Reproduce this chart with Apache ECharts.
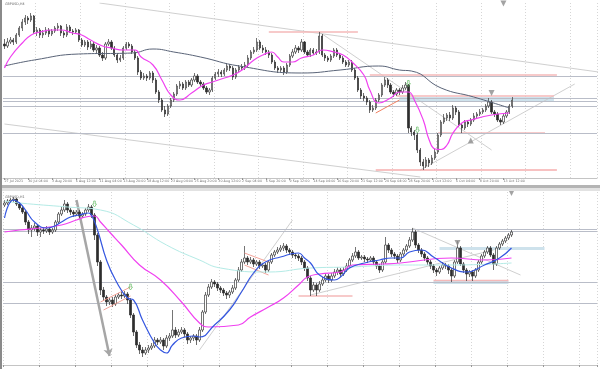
<!DOCTYPE html>
<html><head><meta charset="utf-8">
<script src="https://cdn.jsdelivr.net/npm/echarts/dist/echarts.min.js"></script>
<style>html,body{margin:0;padding:0;background:#fff}#c{width:600px;height:369px}</style>
</head><body><div id="c"></div>
<script>
// Prices are stored in pips above 1.0000 (3864 = 1.3864). Candles: [open, close, low, high]
const topTitle = 'GBPUSD,H4';
const bottomTitle = 'GBPUSD,H1';
const topTicks = ['27 Jul 2021','30 Jul 04:00','3 Aug 20:00','6 Aug 12:00','11 Aug 04:00','13 Aug 20:00','18 Aug 12:00','23 Aug 04:00','25 Aug 20:00','30 Aug 12:00','2 Sep 04:00','6 Sep 20:00','9 Sep 12:00','14 Sep 04:00','16 Sep 20:00','21 Sep 12:00','24 Sep 04:00','28 Sep 20:00','1 Oct 12:00','6 Oct 04:00','8 Oct 20:00','13 Oct 12:00'];
const topBarCount = 200;
const bottomBarCount = 198;

const topOHLC = [
[3864,3856,3844,3884],[3856,3872,3848,3888],[3872,3880,3864,3892],[3880,3872,3860,3888],[3872,3900,3864,3908],
[3900,3928,3892,3936],[3928,3952,3916,3964],[3952,3968,3940,3980],[3968,3960,3944,3976],[3960,3976,3952,3988],
[3976,3912,3904,3980],[3912,3920,3896,3932],[3920,3900,3888,3928],[3900,3908,3888,3920],[3908,3920,3900,3932],
[3920,3904,3892,3928],[3904,3916,3896,3924],[3916,3928,3908,3936],[3928,3936,3916,3948],[3936,3908,3896,3940],
[3908,3900,3888,3916],[3900,3932,3892,3944],[3932,3916,3908,3940],[3916,3912,3900,3924],[3912,3920,3904,3928],
[3920,3880,3872,3924],[3880,3860,3852,3888],[3860,3872,3852,3880],[3872,3852,3840,3880],[3852,3864,3844,3876],
[3864,3840,3832,3872],[3840,3848,3828,3860],[3848,3820,3812,3856],[3820,3808,3796,3832],[3808,3864,3800,3872],
[3864,3872,3856,3884],[3872,3848,3840,3880],[3848,3820,3812,3856],[3820,3800,3788,3828],[3800,3808,3792,3820],
[3808,3848,3800,3856],[3848,3864,3840,3872],[3864,3856,3848,3872],[3856,3832,3824,3864],[3832,3808,3800,3840],
[3808,3752,3740,3816],[3752,3728,3720,3760],[3728,3736,3720,3748],[3736,3728,3716,3744],[3728,3748,3720,3756],
[3748,3720,3708,3756],[3720,3672,3664,3728],[3672,3640,3628,3680],[3640,3600,3592,3648],[3600,3584,3572,3616],
[3584,3616,3576,3624],[3616,3640,3608,3648],[3640,3664,3632,3672],[3664,3696,3656,3704],[3696,3704,3684,3716],
[3704,3688,3680,3712],[3688,3712,3680,3720],[3712,3700,3692,3720],[3700,3720,3692,3728],[3720,3736,3712,3748],
[3736,3712,3704,3744],[3712,3704,3696,3720],[3704,3688,3680,3712],[3688,3672,3664,3696],[3672,3680,3660,3688],
[3680,3728,3672,3736],[3728,3744,3720,3752],[3744,3752,3732,3764],[3752,3744,3732,3760],[3744,3760,3736,3768],
[3760,3776,3752,3788],[3776,3768,3756,3784],[3768,3732,3720,3776],[3732,3760,3724,3768],[3760,3772,3752,3780],
[3772,3768,3760,3784],[3768,3780,3760,3792],[3780,3808,3772,3820],[3808,3832,3800,3840],[3832,3840,3824,3852],
[3840,3872,3832,3888],[3872,3848,3840,3880],[3848,3840,3828,3860],[3840,3832,3820,3852],[3832,3820,3808,3840],
[3820,3792,3784,3828],[3792,3768,3760,3800],[3768,3760,3748,3776],[3760,3768,3752,3776],[3768,3752,3740,3776],
[3752,3780,3744,3788],[3780,3816,3772,3824],[3816,3832,3808,3844],[3832,3848,3824,3860],[3848,3840,3828,3856],
[3840,3872,3832,3884],[3872,3832,3824,3876],[3832,3820,3812,3840],[3820,3840,3812,3848],[3840,3828,3820,3848],
[3828,3832,3820,3844],[3832,3896,3824,3912],[3896,3820,3812,3904],[3820,3808,3796,3828],[3808,3800,3792,3816],
[3800,3816,3792,3824],[3816,3840,3808,3848],[3840,3820,3812,3848],[3820,3808,3800,3828],[3808,3792,3784,3816],
[3792,3780,3772,3800],[3780,3792,3772,3800],[3792,3760,3752,3800],[3760,3728,3720,3768],[3728,3680,3672,3736],
[3680,3656,3644,3688],[3656,3648,3636,3668],[3648,3632,3620,3656],[3632,3600,3588,3640],[3600,3608,3592,3620],
[3608,3640,3600,3648],[3640,3660,3632,3668],[3660,3700,3652,3708],[3700,3720,3692,3732],[3720,3700,3688,3728],
[3700,3672,3664,3708],[3672,3664,3652,3680],[3664,3680,3656,3688],[3680,3672,3660,3688],[3672,3688,3664,3700],
[3688,3700,3680,3712],[3700,3528,3508,3704],[3528,3512,3496,3536],[3512,3500,3480,3520],[3500,3440,3428,3508],
[3440,3392,3376,3448],[3392,3376,3360,3404],[3376,3400,3368,3412],[3400,3388,3372,3408],[3388,3408,3380,3420],
[3408,3432,3400,3444],[3432,3500,3424,3508],[3500,3552,3492,3560],[3552,3568,3544,3584],[3568,3580,3556,3588],
[3580,3568,3556,3592],[3568,3608,3560,3620],[3608,3592,3580,3616],[3592,3540,3532,3600],[3540,3528,3508,3548],
[3528,3552,3520,3560],[3552,3544,3532,3560],[3544,3560,3536,3568],[3560,3576,3552,3588],[3576,3584,3568,3592],
[3584,3592,3576,3604],[3592,3600,3584,3608],[3600,3616,3592,3624],[3616,3632,3608,3648],[3632,3592,3584,3640],
[3592,3584,3572,3600],[3584,3560,3552,3592],[3560,3552,3540,3568],[3552,3576,3544,3584],[3576,3592,3568,3600],
[3592,3616,3584,3624],[3616,3640,3608,3652]
];
const topMaFast = [[0,3768],[2,3812],[6,3868],[9,3900],[12,3912],[16,3920],[19,3920],[23,3908],[26,3900],[29,3880],[33,3856],[36,3848],[40,3840],[44,3840],[46,3812],[50,3780],[53,3720],[56,3660],[59,3640],[63,3668],[67,3700],[70,3712],[73,3724],[77,3740],[80,3760],[84,3800],[87,3820],[90,3832],[92,3812],[94,3792],[97,3792],[100,3808],[104,3820],[107,3840],[111,3832],[114,3820],[117,3792],[121,3740],[123,3680],[126,3628],[130,3648],[133,3672],[136,3672],[138,3640],[141,3560],[143,3480],[145,3444],[147,3442],[149,3460],[151,3508],[154,3548],[157,3560],[164,3580],[170,3588]];
const topMaSlow = [[0,3776],[10,3800],[25,3824],[43,3828],[50,3844],[57,3832],[66,3812],[79,3776],[100,3748],[113,3760],[126,3776],[133,3760],[137,3756],[147,3688],[158,3652],[170,3608]];
const topLevels = [3736, 3648, 3636, 3616, 3508];
const topPinkLevels = [[89,119,3912],[123,186,3740],[132,185,3656],[146,182,3508]];
const topRedLevels = [[125,186,3360]];
const topBands = [[133,185,3652,3632]];
const topTrends = [[[32,4028],[199.5,3752]],[[-0.5,3544],[140,3332]],[[106,3912],[164,3440]],[[140,3360],[192,3704]]];
const topOrangeTrends = [[[125,3588],[133,3640]]];
const topDownTriangles = [[164,3668],[168,4026]];
const topUpTriangles = [[157,3478]];
const topGreenArrows = [[136,3706],[139,3520]];

const bottomOHLC = [
[3730,3734,3726,3740],[3734,3738,3730,3742],[3738,3740,3734,3744],[3740,3742,3736,3746],[3742,3732,3728,3744],
[3732,3724,3720,3736],[3724,3716,3712,3728],[3716,3696,3690,3720],[3696,3680,3672,3700],[3680,3684,3666,3690],
[3684,3688,3678,3694],[3688,3676,3668,3692],[3676,3680,3666,3684],[3680,3678,3672,3686],[3678,3682,3674,3688],
[3682,3676,3670,3686],[3676,3680,3672,3684],[3680,3696,3676,3700],[3696,3712,3692,3716],[3712,3720,3708,3726],
[3720,3732,3716,3740],[3732,3720,3714,3736],[3720,3716,3710,3724],[3716,3712,3706,3720],[3712,3716,3708,3720],
[3716,3708,3702,3720],[3708,3712,3704,3716],[3712,3720,3708,3724],[3720,3726,3716,3732],[3726,3710,3704,3730],
[3710,3670,3660,3714],[3670,3616,3608,3674],[3616,3560,3550,3620],[3560,3546,3538,3566],[3546,3536,3528,3550],
[3536,3540,3530,3544],[3540,3532,3526,3546],[3532,3546,3528,3550],[3546,3550,3542,3554],[3550,3548,3542,3556],
[3548,3552,3544,3558],[3552,3540,3532,3556],[3540,3510,3504,3544],[3510,3476,3468,3514],[3476,3450,3444,3480],
[3450,3440,3432,3456],[3440,3434,3426,3446],[3434,3440,3430,3446],[3440,3444,3434,3450],[3444,3448,3440,3454],
[3448,3460,3444,3466],[3460,3456,3450,3464],[3456,3460,3452,3466],[3460,3448,3440,3464],[3448,3464,3444,3470],
[3464,3468,3458,3474],[3468,3480,3464,3520],[3480,3470,3464,3486],[3470,3476,3466,3482],[3476,3480,3472,3486],
[3480,3472,3466,3484],[3472,3460,3452,3476],[3460,3464,3454,3468],[3464,3468,3458,3472],[3468,3460,3450,3472],
[3460,3480,3456,3486],[3480,3516,3476,3520],[3516,3550,3512,3556],[3550,3566,3546,3572],[3566,3576,3562,3582],
[3576,3572,3566,3580],[3572,3564,3558,3576],[3564,3560,3554,3568],[3560,3554,3548,3564],[3554,3550,3542,3558],
[3550,3556,3544,3560],[3556,3564,3552,3570],[3564,3580,3560,3584],[3580,3600,3576,3606],[3600,3616,3596,3622],
[3616,3624,3612,3648],[3624,3616,3610,3628],[3616,3620,3612,3626],[3620,3612,3606,3624],[3612,3616,3608,3620],
[3616,3608,3602,3620],[3608,3610,3604,3614],[3610,3600,3594,3614],[3600,3616,3596,3620],[3616,3630,3612,3634],
[3630,3636,3626,3640],[3636,3640,3632,3646],[3640,3644,3636,3650],[3644,3648,3638,3654],[3648,3640,3634,3652],
[3640,3636,3630,3644],[3636,3630,3624,3640],[3630,3628,3622,3634],[3628,3624,3618,3632],[3624,3616,3610,3628],
[3616,3604,3598,3620],[3604,3584,3578,3608],[3584,3560,3548,3588],[3560,3570,3556,3576],[3570,3560,3548,3574],
[3560,3572,3556,3578],[3572,3580,3568,3586],[3580,3588,3576,3594],[3588,3580,3574,3592],[3580,3588,3576,3594],
[3588,3596,3584,3602],[3596,3600,3590,3606],[3600,3592,3586,3604],[3592,3600,3588,3606],[3600,3608,3596,3614],
[3608,3620,3604,3624],[3620,3628,3616,3634],[3628,3636,3624,3646],[3636,3624,3620,3640],[3624,3626,3620,3630],
[3626,3622,3616,3630],[3622,3620,3614,3626],[3620,3624,3616,3628],[3624,3616,3610,3628],[3616,3608,3602,3620],
[3608,3600,3594,3612],[3600,3616,3596,3620],[3616,3650,3612,3666],[3650,3640,3634,3654],[3640,3632,3626,3644],
[3632,3628,3622,3636],[3628,3620,3614,3632],[3620,3632,3616,3636],[3632,3640,3628,3644],[3640,3648,3636,3652],
[3648,3660,3644,3666],[3660,3676,3656,3684],[3676,3650,3644,3680],[3650,3640,3634,3654],[3640,3632,3626,3644],
[3632,3624,3618,3636],[3624,3616,3610,3628],[3616,3608,3602,3620],[3608,3600,3594,3612],[3600,3596,3588,3604],
[3596,3604,3592,3608],[3604,3610,3600,3616],[3610,3608,3602,3614],[3608,3600,3592,3612],[3600,3588,3576,3604],
[3588,3616,3584,3620],[3616,3644,3612,3658],[3644,3612,3608,3648],[3612,3600,3594,3616],[3600,3592,3578,3604],
[3592,3596,3586,3600],[3596,3588,3578,3600],[3588,3600,3584,3604],[3600,3616,3596,3620],[3616,3628,3612,3632],
[3628,3636,3624,3640],[3636,3644,3632,3648],[3644,3630,3626,3648],[3630,3612,3600,3634],[3612,3644,3608,3648],
[3644,3652,3640,3656],[3652,3658,3648,3662],[3658,3664,3654,3668],[3664,3670,3660,3674],[3670,3676,3666,3680]
];
const bottomMaFast = [[0,3704],[3,3740],[5,3734],[7,3720],[10,3696],[14,3684],[16,3686],[19,3696],[22,3706],[25,3710],[28,3714],[29,3710],[31,3680],[34,3620],[37,3580],[41,3544],[43,3540],[46,3500],[50,3454],[52,3440],[54,3434],[56,3450],[59,3464],[63,3468],[65,3466],[70,3490],[75,3520],[79,3556],[83,3594],[87,3616],[92,3626],[98,3634],[100,3624],[102,3614],[105,3590],[110,3580],[112,3586],[115,3604],[120,3614],[125,3620],[129,3624],[132,3624],[135,3636],[139,3640],[143,3626],[149,3604],[154,3596],[160,3610],[165,3624],[169,3644]];
const bottomMaMid = [[0,3676],[5,3680],[12,3684],[19,3690],[24,3700],[27,3706],[30,3708],[32,3696],[35,3676],[39,3650],[45,3610],[52,3580],[59,3536],[65,3494],[68,3486],[78,3490],[82,3506],[88,3526],[93,3544],[98,3570],[101,3586],[105,3592],[112,3596],[116,3610],[126,3612],[132,3614],[149,3624],[160,3620],[169,3624]];
const bottomMaSlow = [[0,3738],[5,3734],[21,3726],[32,3720],[43,3690],[54,3650],[65,3620],[72,3604],[88,3596],[102,3604],[115,3606],[132,3610],[149,3610],[169,3614]];
const bottomLevels = [3682, 3678, 3576, 3534];
const bottomPinkLevels = [[98,116,3548],[143,168,3579]];
const bottomBands = [[145,180,3646,3640],[143,168,3578,3572]];
const bottomTrends = [[[65,3440],[96,3700]],[[102,3550],[163,3640]],[[136,3684],[172,3590]]];
const bottomPinkTrends = [[[32,3536],[42,3566]],[[33,3520],[42,3548]],[[80,3634],[88,3616]],[[80,3610],[88,3590]]];
const bottomArrow = [[23.5,3740],[34.5,3428]];
const bottomDownTriangles = [[150.8,3654],[168.5,3754]];
const bottomGreenArrows = [[29.5,3732],[41.8,3566]];

const chart = echarts.init(document.getElementById('c'));
const FONT = 'DejaVu Sans';
const greenArrowPath = 'path://M3,0L7,0L7,5L10,5L5,10L0,5L3,5Z';

function lineSeries(data, xi, color, width, z, smooth) {
  return {type:'line', xAxisIndex:xi, yAxisIndex:xi, data:data, symbol:'none', smooth:smooth||false,
    lineStyle:{color:color, width:width}, silent:true, z:z, animation:false};
}
function levelSeg(arr, xi, color, width, z) {
  return arr.map(([a,b,v]) => lineSeries([[a,v],[b,v]], xi, color, width, z));
}
function trendSeg(arr, xi, color, width, z) {
  return arr.map(seg => lineSeries(seg, xi, color, width, z));
}
function bandArea(arr) {
  return arr.map(([a,b,p1,p2]) => [{coord:[a,p1]},{coord:[b,p2]}]);
}
const candleStyle = {color:'#ffffff', color0:'#2e2e2e', borderColor:'#3a3a3a', borderColor0:'#2e2e2e', borderWidth:0.7};

const series = [
  // top panel
  {type:'candlestick', xAxisIndex:0, yAxisIndex:0, data:topOHLC, barWidth:1.7, itemStyle:candleStyle, z:5, silent:true,
    markLine:{symbol:'none', silent:true, label:{show:false}, animation:false,
      lineStyle:{color:'#b9bdc8', width:1, type:'solid'}, data:topLevels.map(v=>({yAxis:v}))},
    markArea:{silent:true, itemStyle:{color:'#c9dfea', opacity:0.9}, data:bandArea(topBands)}},
  ...levelSeg(topPinkLevels, 0, '#f4b9b9', 1.6, 3),
  ...levelSeg(topRedLevels, 0, '#f08484', 1, 3),
  ...trendSeg(topTrends, 0, '#c9c9c9', 0.9, 2),
  ...trendSeg(topOrangeTrends, 0, '#f08060', 1, 6),
  lineSeries(topMaSlow, 0, '#5a6478', 1, 6, true),
  lineSeries(topMaFast, 0, '#f040f0', 1.2, 7, true),
  {type:'scatter', xAxisIndex:0, yAxisIndex:0, data:topDownTriangles, symbol:'triangle', symbolRotate:180, symbolSize:6, itemStyle:{color:'#8c8c8c'}, z:8, silent:true},
  {type:'scatter', xAxisIndex:0, yAxisIndex:0, data:topUpTriangles, symbol:'triangle', symbolSize:6, itemStyle:{color:'#8c8c8c'}, z:8, silent:true},
  {type:'scatter', xAxisIndex:0, yAxisIndex:0, data:topGreenArrows, symbol:greenArrowPath, symbolSize:[4,6], itemStyle:{color:'rgba(0,0,0,0)', borderColor:'#5cb85c', borderWidth:0.8}, z:8, silent:true},
  // bottom panel
  {type:'candlestick', xAxisIndex:1, yAxisIndex:1, data:bottomOHLC, barWidth:1.7, itemStyle:candleStyle, z:5, silent:true,
    markLine:{symbol:'none', silent:true, label:{show:false}, animation:false,
      lineStyle:{color:'#b9bdc8', width:1, type:'solid'}, data:bottomLevels.map(v=>({yAxis:v}))},
    markArea:{silent:true, itemStyle:{color:'#c9dfea', opacity:0.9}, data:bandArea(bottomBands)}},
  ...levelSeg(bottomPinkLevels, 1, '#f4b9b9', 1.4, 3),
  ...trendSeg(bottomTrends, 1, '#c9c9c9', 0.9, 2),
  ...trendSeg(bottomPinkTrends, 1, '#f29a8e', 0.9, 6),
  {type:'line', xAxisIndex:1, yAxisIndex:1, data:[], silent:true, z:4,
    markLine:{silent:true, animation:false, symbol:['none','arrow'], symbolSize:7, label:{show:false},
      lineStyle:{color:'#a6a6a6', width:2.5, type:'solid'},
      data:[[{coord:bottomArrow[0]},{coord:bottomArrow[1]}]]}},
  lineSeries(bottomMaSlow, 1, '#b4ebe6', 1, 6, true),
  lineSeries(bottomMaMid, 1, '#f040f0', 1.2, 7, true),
  lineSeries(bottomMaFast, 1, '#3456e0', 1.2, 7, true),
  {type:'scatter', xAxisIndex:1, yAxisIndex:1, data:bottomDownTriangles, symbol:'triangle', symbolRotate:180, symbolSize:6, itemStyle:{color:'#8c8c8c'}, z:8, silent:true},
  {type:'scatter', xAxisIndex:1, yAxisIndex:1, data:bottomGreenArrows, symbol:greenArrowPath, symbolSize:[4,6], itemStyle:{color:'rgba(0,0,0,0)', borderColor:'#5cb85c', borderWidth:0.8}, z:8, silent:true}
];

const topCats = Array.from({length:topBarCount}, (_, i) => String(i));
const bottomCats = Array.from({length:bottomBarCount}, (_, i) => String(i));

chart.setOption({
  animation:false,
  backgroundColor:'#ffffff',
  grid:[
    {left:3, right:3, top:3, height:175, show:false},
    {left:3, right:3, top:192, height:173, show:false}
  ],
  xAxis:[
    {type:'category', gridIndex:0, data:topCats, boundaryGap:true,
      axisLine:{show:true, lineStyle:{color:'#c4c4c4', width:1}},
      axisTick:{show:true, length:2, alignWithLabel:true, interval:(i)=>i%8===0 && i/8<topTicks.length, lineStyle:{color:'#999'}},
      axisLabel:{show:true, fontSize:3.3, color:'#707070', fontFamily:FONT, align:'left', margin:2,
        interval:(i)=>i%8===0 && i/8<topTicks.length, formatter:(v,i)=> topTicks[i/8] || ''},
      splitLine:{show:true, interval:(i)=>i%15===11, lineStyle:{color:'#d6d6d6', width:1, type:[1,2]}}},
    {type:'category', gridIndex:1, data:bottomCats, boundaryGap:true,
      axisLine:{show:true, lineStyle:{color:'#c4c4c4', width:1}},
      axisTick:{show:true, length:2, interval:(i)=>i%12===0, lineStyle:{color:'#999'}},
      axisLabel:{show:false},
      splitLine:{show:true, interval:(i)=>i%12===0, lineStyle:{color:'#d6d6d6', width:1, type:[1,2]}}}
  ],
  yAxis:[
    {type:'value', gridIndex:0, min:3328, max:4028, show:false, splitLine:{show:false}},
    {type:'value', gridIndex:1, min:3410, max:3756, show:false, splitLine:{show:false}}
  ],
  graphic:[
    {type:'rect', shape:{x:0, y:185, width:600, height:3}, style:{fill:'#b4b4b4'}, silent:true, z:100},
    {type:'rect', shape:{x:0, y:188, width:600, height:3}, style:{fill:'#e2e2e2'}, silent:true, z:100},
    {type:'rect', shape:{x:0, y:0, width:2, height:369}, style:{fill:'#8a8a8a'}, silent:true, z:100},
    {type:'text', left:5, top:3, style:{text:topTitle, fontSize:3.3, fill:'#666', fontFamily:FONT}, silent:true, z:100},
    {type:'text', left:5, top:196, style:{text:bottomTitle, fontSize:3.3, fill:'#666', fontFamily:FONT}, silent:true, z:100}
  ],
  series:series
});
</script>
</body></html>
